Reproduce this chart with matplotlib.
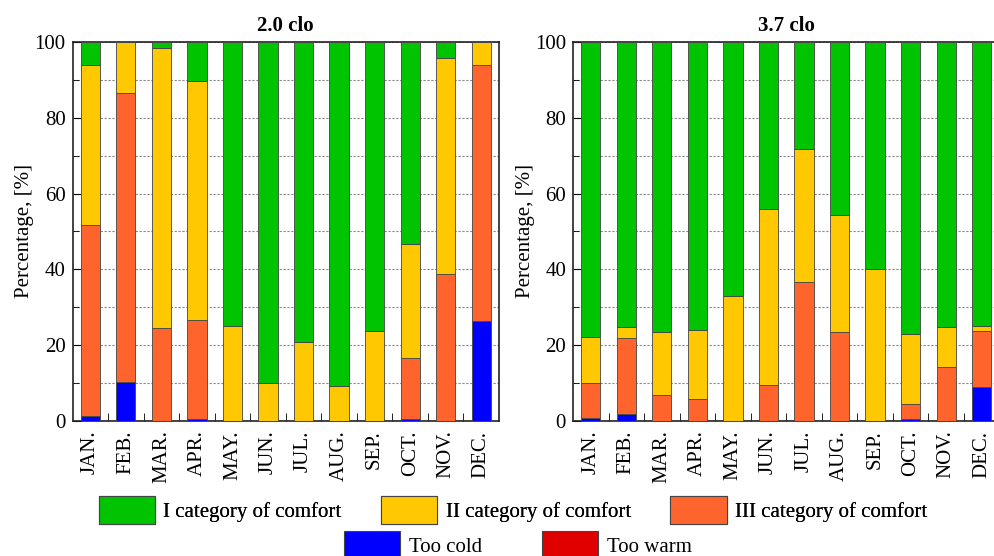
import matplotlib
matplotlib.use("Agg")
import matplotlib.pyplot as plt
import numpy as np
from matplotlib.patches import Patch
from matplotlib.ticker import MultipleLocator

months = ["JAN.", "FEB.", "MAR.", "APR.", "MAY.", "JUN.", "JUL.", "AUG.",
          "SEP.", "OCT.", "NOV.", "DEC."]

# 2.0 clo, percentage of hours per category
cold_20 = [1.3, 10.2, 0, 0.4, 0, 0, 0, 0, 0, 0.4, 0, 26.3]
cat3_20 = [50.4, 76.4, 24.6, 26.3, 0, 0, 0, 0, 0, 16.1, 38.8, 67.5]
cat2_20 = [42.3, 13.4, 73.8, 62.9, 25.0, 9.9, 20.9, 9.2, 23.7, 30.2, 57.1, 6.2]
cat1_20 = [6.0, 0, 1.6, 10.4, 75.0, 90.1, 79.1, 90.8, 76.3, 53.3, 4.1, 0]
warm_20 = [0] * 12

# 3.7 clo
cold_37 = [0.8, 1.8, 0, 0, 0, 0, 0, 0, 0, 0.4, 0, 8.9]
cat3_37 = [9.1, 20.0, 6.8, 5.8, 0, 9.5, 36.6, 23.4, 0, 4.0, 14.1, 14.8]
cat2_37 = [12.2, 3.1, 16.6, 18.3, 33.0, 46.3, 35.1, 31.0, 40.0, 18.5, 10.8, 1.3]
cat1_37 = [77.9, 75.1, 76.6, 75.9, 67.0, 44.2, 28.3, 45.6, 60.0, 77.1, 75.1, 75.0]
warm_37 = [0] * 12

labels = ["I category of comfort", "II category of comfort", "III category of comfort",
          "Too cold", "Too warm"]
colors = {"I": "#00c400", "II": "#ffc800", "III": "#ff642c", "cold": "#0000ff", "warm": "#e00000"}

plt.rcParams["font.family"] = "Liberation Serif"
plt.rcParams["font.size"] = 15

fig = plt.figure(figsize=(9.94, 5.56), dpi=100)
ax1 = fig.add_axes([0.073, 0.243, 0.429, 0.6815])
ax2 = fig.add_axes([0.5765, 0.243, 0.429, 0.6815])


def draw(ax, cold, cat3, cat2, cat1, warm, title):
    x = np.arange(len(months))
    w = 0.54
    kw = dict(width=w, edgecolor="#444444", linewidth=0.6, zorder=3)
    bottom = np.zeros(len(months))
    for vals, key in [(cold, "cold"), (cat3, "III"), (cat2, "II"), (cat1, "I"), (warm, "warm")]:
        vals = np.array(vals, dtype=float)
        ax.bar(x, vals, bottom=bottom, color=colors[key], **kw)
        bottom += vals
    ax.set_xlim(-0.5, 11.5)
    ax.set_ylim(0, 100)
    ax.set_xticks(x)
    ax.set_xticklabels(months, rotation=90)
    ax.set_xticks(np.arange(0.5, 11.5, 1), minor=True)
    ax.tick_params(axis="x", which="major", length=0, pad=7)
    ax.tick_params(axis="x", which="minor", direction="in", length=6)
    ax.yaxis.set_major_locator(MultipleLocator(20))
    ax.yaxis.set_minor_locator(MultipleLocator(10))
    ax.tick_params(axis="y", which="both", direction="in", pad=5)
    ax.tick_params(axis="y", which="major", length=6)
    ax.tick_params(axis="y", which="minor", length=4)
    ax.grid(axis="y", which="both", linestyle=(0, (2, 1.5)), color="#888888", linewidth=0.8, zorder=0)
    ax.set_ylabel("Percentage, [%]", labelpad=0)
    ax.set_title(title, fontweight="bold", fontsize=15, pad=8)
    for s in ax.spines.values():
        s.set_linewidth(1.2)
        s.set_color("#222222")


draw(ax1, cold_20, cat3_20, cat2_20, cat1_20, warm_20, "2.0 clo")
draw(ax2, cold_37, cat3_37, cat2_37, cat1_37, warm_37, "3.7 clo")

keys = ["I", "II", "III", "cold", "warm"]
handles = [Patch(facecolor=colors[k], edgecolor="#444444", linewidth=0.8) for k in keys]

leg1 = fig.legend(handles[:3], labels[:3], ncol=3, loc="center",
                  bbox_to_anchor=(0.516, 0.082), frameon=False,
                  handlelength=2.7, handleheight=1.7, columnspacing=1.9, handletextpad=0.4)
fig.add_artist(leg1)
fig.legend(handles[3:], labels[3:], ncol=2, loc="center",
           bbox_to_anchor=(0.521, 0.02), frameon=False,
           handlelength=2.7, handleheight=1.7, columnspacing=2.9, handletextpad=0.4)

fig.savefig("out.png", dpi=100)
